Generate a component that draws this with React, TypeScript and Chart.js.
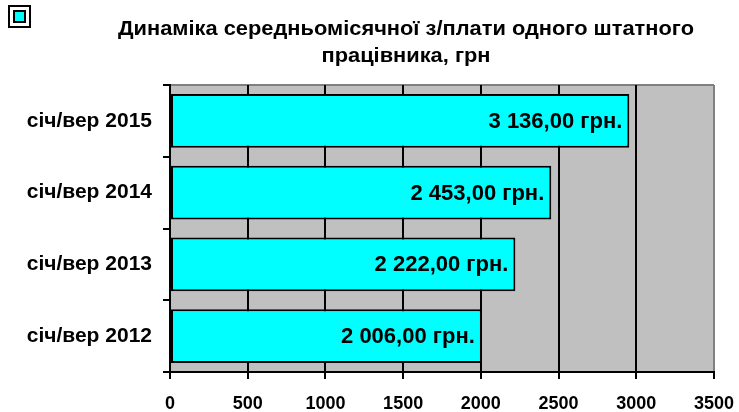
import React, { useEffect, useRef } from "react";
import { Chart, registerables } from "chart.js";

Chart.register(...registerables);

const categories = ["січ/вер 2015", "січ/вер 2014", "січ/вер 2013", "січ/вер 2012"];
const barValues = [2955, 2453, 2222, 2006];
const valueLabels = ["3 136,00 грн.", "2 453,00 грн.", "2 222,00 грн.", "2 006,00 грн."];
const titleLines = ["Динаміка середньомісячної з/плати одного штатного", "працівника, грн"];
const xMax = 3500;
const xStep = 500;

const FONT = "'Liberation Sans', Arial, sans-serif";

export default function App() {
  const ref = useRef<HTMLCanvasElement | null>(null);

  useEffect(() => {
    if (!ref.current) return;

    const decor = {
      id: "decor",
      beforeDraw(chart: any) {
        const { ctx, chartArea } = chart;
        ctx.save();
        ctx.fillStyle = "#C0C0C0";
        ctx.fillRect(chartArea.left, chartArea.top, chartArea.right - chartArea.left, chartArea.bottom - chartArea.top);
        ctx.strokeStyle = "#808080";
        ctx.lineWidth = 2;
        ctx.beginPath();
        ctx.moveTo(chartArea.left, chartArea.top);
        ctx.lineTo(chartArea.right, chartArea.top);
        ctx.stroke();
        ctx.restore();
      },
      afterDatasetsDraw(chart: any) {
        const { ctx } = chart;
        const meta = chart.getDatasetMeta(0);
        ctx.save();
        ctx.font = `bold 22px ${FONT}`;
        ctx.fillStyle = "#000";
        ctx.textAlign = "right";
        ctx.textBaseline = "middle";
        meta.data.forEach((bar: any, i: number) => {
          ctx.fillText(valueLabels[i], bar.x - 7, bar.y + 1);
        });
        ctx.restore();
      },
      afterDraw(chart: any) {
        const { ctx } = chart;
        ctx.save();
        // title
        ctx.font = `bold 21px ${FONT}`;
        ctx.fillStyle = "#000";
        ctx.textAlign = "center";
        ctx.textBaseline = "middle";
        ctx.translate(406, 0);
        ctx.scale(1.04, 1);
        ctx.fillText(titleLines[0], 0, 29);
        ctx.fillText(titleLines[1], 0, 56);
        ctx.restore();
        ctx.save();
        // legend box
        ctx.fillStyle = "#fff";
        ctx.fillRect(9, 6, 21, 21);
        ctx.strokeStyle = "#000";
        ctx.lineWidth = 2;
        ctx.strokeRect(9, 6, 21, 21);
        ctx.fillStyle = "#00FFFF";
        ctx.fillRect(14, 11, 11, 11);
        ctx.strokeRect(14, 11, 11, 11);
        ctx.restore();
      },
    };

    const chart = new Chart(ref.current, {
      type: "bar",
      data: {
        labels: categories,
        datasets: [
          {
            data: barValues,
            backgroundColor: "#00FFFF",
            borderColor: "#000000",
            borderWidth: 2,
            borderSkipped: false,
            barPercentage: 0.75,
            categoryPercentage: 1,
          },
        ],
      },
      options: {
        indexAxis: "y",
        animation: false,
        responsive: true,
        maintainAspectRatio: false,
        layout: { padding: { top: 85, right: 25, left: 0, bottom: 0 } },
        plugins: {
          legend: { display: false },
          title: { display: false },
          tooltip: { enabled: false },
        },
        scales: {
          x: {
            min: 0,
            max: xMax,
            ticks: {
              stepSize: xStep,
              color: "#000",
              font: { family: FONT, size: 18, weight: "bold" },
              padding: 14,
              maxRotation: 0,
              callback: (v: any) => String(v),
            },
            grid: {
              color: (c: any) => (c.tick && c.tick.value === xMax ? "#808080" : "#000"),
              tickColor: "#000",
              lineWidth: 2,
              tickLength: 7,
            },
            border: { display: true, color: "#000", width: 2 },
            afterFit: (s: any) => {
              s.height = 40;
              s.paddingRight = 0;
              s.paddingLeft = 0;
            },
          },
          y: {
            ticks: {
              color: "#000",
              font: { family: FONT, size: 21, weight: "bold" },
              padding: 11,
            },
            grid: {
              drawOnChartArea: false,
              color: "#000",
              lineWidth: 2,
              tickLength: 7,
              offset: true,
            },
            border: { display: true, color: "#000", width: 2 },
            afterFit: (s: any) => {
              s.width = 170;
              s.paddingTop = 0;
              s.paddingBottom = 0;
            },
          },
        },
      },
      plugins: [decor],
    });

    return () => chart.destroy();
  }, []);

  return (
    <div style={{ position: "fixed", left: 0, top: 0, width: 739, height: 412, background: "#fff" }}>
      <canvas ref={ref} />
    </div>
  );
}
